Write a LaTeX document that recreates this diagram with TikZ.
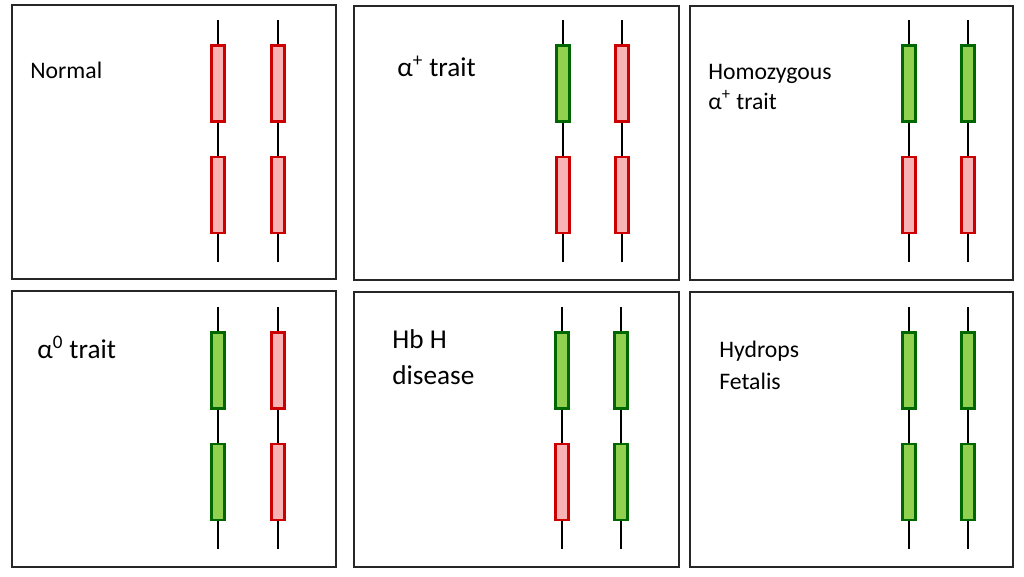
\documentclass[tikz,border=0pt]{standalone}
\usepackage{fontspec}
\setmainfont{Carlito}
\definecolor{genered}{HTML}{F8B4B4}
\definecolor{genegreen}{HTML}{92D050}
\begin{document}
\begin{tikzpicture}[x=0.02cm,y=-0.02cm,
  panel/.style={draw=black!85,line width=1.2pt},
  gene/.style={rectangle,draw,line width=1.3pt,minimum width=0.26cm,minimum height=1.52cm,inner sep=0pt},
  wt/.style={gene,draw=red!80!black,fill=genered},
  del/.style={gene,draw=green!40!black,fill=genegreen},
  lbl/.style={anchor=base west,inner sep=0pt,font=\fontsize{13.5}{16}\selectfont},
  big/.style={anchor=base west,inner sep=0pt,font=\fontsize{15.5}{19}\selectfont}]
\useasboundingbox (0,0) rectangle (1024,576);

% panels
\draw[panel] (12,5) rectangle (336,279);
\draw[panel] (354,6) rectangle (679,280);
\draw[panel] (690,6) rectangle (1013,280);
\draw[panel] (12,291) rectangle (336,567);
\draw[panel] (354,292) rectangle (679,567);
\draw[panel] (690,292) rectangle (1013,567);

% chromosomes: x / top of line / upper gene / lower gene
\foreach \cx/\cy/\up/\lo [count=\i] in {218/20/wt/wt, 278/20/wt/wt,
    563/20/del/wt, 622/20/wt/wt, 909/20/del/wt, 968/20/del/wt,
    218/307/del/del, 278/307/wt/wt, 562/307/del/wt, 621/307/del/del,
    909/307/del/del, 968/307/del/del}{
  \coordinate (T\i) at (\cx,\cy);
  \coordinate (B\i) at (\cx,\cy+242);
  \draw[line width=1.5pt] (T\i) -- (B\i);
  \node[\up] (U\i) at (\cx,\cy+63.5) {};
  \node[\lo] (L\i) at (\cx,\cy+175) {};
}

% labels
\node[lbl] (normal) at (30,78) {Normal};
\node[big] (aplus) at (397,76) {α\textsuperscript{+} trait};
\node[lbl] (homo) at (708,79) {Homozygous};
\node[lbl] (homoa) at (708,109) {α\textsuperscript{+} trait};
\node[big] (azero) at (37,358) {α\textsuperscript{0} trait};
\node[big] (hbh) at (392,348) {Hb H};
\node[big] (hbhd) at (392,384) {disease};
\node[lbl] (hyd) at (719,357) {Hydrops};
\node[lbl] (hydf) at (719,389) {Fetalis};
\end{tikzpicture}
\end{document}
